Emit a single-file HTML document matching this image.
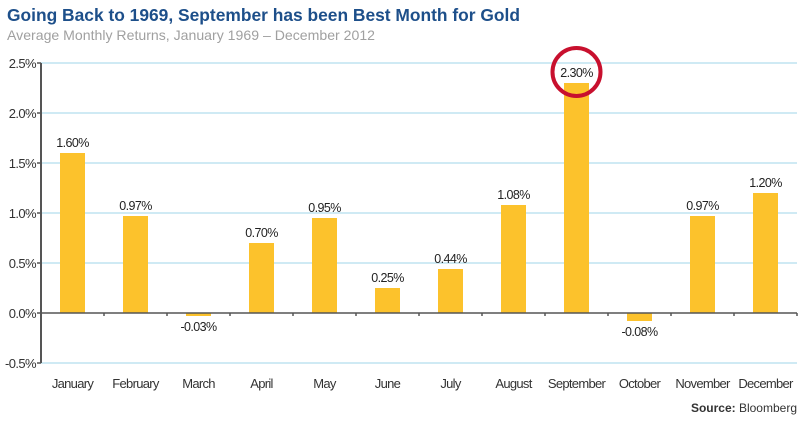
<!DOCTYPE html>
<html><head><meta charset="utf-8"><style>
body{margin:0;background:#fff;width:800px;height:421px;overflow:hidden}
svg text{font-family:"Liberation Sans Narrow","Liberation Sans",sans-serif}
</style></head><body>
<svg id="c" width="800" height="421">
<text x="7" y="21" font-size="17.5" font-weight="bold" fill="#1d4f8a" textLength="513" lengthAdjust="spacingAndGlyphs">Going Back to 1969, September has been Best Month for Gold</text>
<text x="7" y="40" font-size="14" fill="#a0a0a0" textLength="368" lengthAdjust="spacingAndGlyphs">Average Monthly Returns, January 1969 – December 2012</text>
<text x="797" y="412" font-size="12" text-anchor="end" fill="#333"><tspan font-weight="bold">Source:</tspan> Bloomberg</text>
</svg>
<script>
const categories=["January","February","March","April","May","June","July","August","September","October","November","December"];
const values=[1.60,0.97,-0.03,0.70,0.95,0.25,0.44,1.08,2.30,-0.08,0.97,1.20];
const labels=["1.60%","0.97%","-0.03%","0.70%","0.95%","0.25%","0.44%","1.08%","2.30%","-0.08%","0.97%","1.20%"];
const ticks=[-0.5,0,0.5,1.0,1.5,2.0,2.5];
const tickLabels=["-0.5%","0.0%","0.5%","1.0%","1.5%","2.0%","2.5%"];
const svg=document.getElementById('c');const NS='http://www.w3.org/2000/svg';
const x0=41,x1=797,y0=313,ppu=100;
const y=v=>y0-v*ppu;const bw=(x1-x0)/categories.length;const xc=i=>x0+bw*(i+0.5);
function mk(t,a,p){const e=document.createElementNS(NS,t);for(const k in a)e.setAttribute(k,a[k]);(p||svg).appendChild(e);return e;}
ticks.forEach((t,i)=>{
 if(t!==0){const g=mk('line',{x1:x0,x2:x1,y1:y(t),y2:y(t),stroke:'#bfe3f0','stroke-width':1.5});
 
 }
 const tk=mk('line',{x1:x0-4,x2:x0,y1:y(t),y2:y(t),stroke:'#555','stroke-width':1.5});
 
 
 const tl=mk('text',{x:x0-5,y:y(t)+5,'font-size':13,'text-anchor':'end',fill:'#333','letter-spacing':'-0.6'});tl.textContent=tickLabels[i];
 
 
});
categories.forEach((c,i)=>{
 const v=values[i];const top=Math.min(y(v),y0),h=Math.max(Math.abs(y(v)-y0),2);
 const b=mk('rect',{x:xc(i)-12.5,y:top,width:25,height:h,fill:'#fcc22c'});
 
 
 const ly=v>=0?y(v)-6:y0+h+15;
 const l=mk('text',{x:xc(i),y:ly,'font-size':12.5,'text-anchor':'middle',fill:'#222','letter-spacing':'-0.6'});l.textContent=labels[i];
 
 
 const cl=mk('text',{x:xc(i),y:388,'font-size':13,'text-anchor':'middle',fill:'#333','letter-spacing':'-0.7'});cl.textContent=c;
 
 
 const xt=mk('line',{x1:x0+bw*(i+1),x2:x0+bw*(i+1),y1:y0,y2:y0+3,stroke:'#555','stroke-width':1.5});
 
 
});
const za=mk('line',{x1:x0,x2:x1,y1:y0,y2:y0,stroke:'#555','stroke-width':1.5});


const ya=mk('line',{x1:x0,x2:x0,y1:y(2.5),y2:y(-0.5),stroke:'#555','stroke-width':2});


const mi=values.indexOf(Math.max(...values));
const ci=mk('circle',{cx:xc(mi),cy:y(values[mi])-11,r:24,fill:'none',stroke:'#c8102e','stroke-width':4});


</script>
</body></html>
